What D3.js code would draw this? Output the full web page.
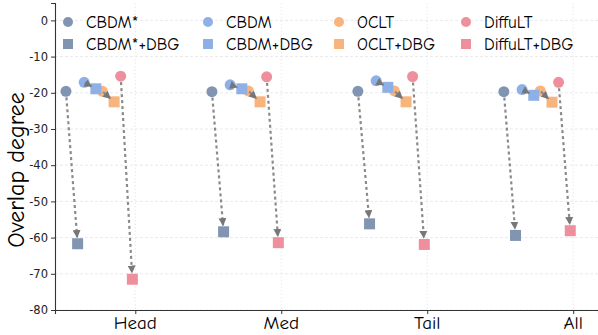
<!DOCTYPE html>
<html>
<head>
<meta charset="utf-8">
<script src="https://cdn.jsdelivr.net/npm/d3@7"></script>
<style>
  body { margin: 0; background: #fff; }
  .label { font-family: "Comic Sans MS", "Comic Neue", "Lato", sans-serif; fill: #000; }
  .tick text { font-family: "DejaVu Sans", sans-serif; font-size: 11.5px; fill: #222; }
</style>
</head>
<body>
<div id="chart"></div>
<script>
// data
let categories = ["Head", "Med", "Tail", "All"];
let methods = ["CBDM*", "CBDM", "OCLT", "DiffuLT"];
let methodColors = ["#8195b3", "#8fb0e7", "#f7b47d", "#ef8f9d"];

// baseline (circle) and +DBG (square) per method, per category
let baseValues = [
    [-19.6, -19.7, -19.6, -19.7],   // CBDM*
    [-17.1, -17.8, -16.7, -19.1],   // CBDM
    [-19.6, -19.5, -19.5, -19.5],   // OCLT
    [-15.4, -15.6, -15.5, -17.1]    // DiffuLT
];
let dbgValues = [
    [-61.7, -58.4, -56.2, -59.4],
    [-18.9, -18.9, -18.5, -20.7],
    [-22.5, -22.5, -22.5, -22.6],
    [-71.5, -61.4, -61.9, -58.1]
];
let yTicks = [0, -10, -20, -30, -40, -50, -60, -70, -80];

// position inside a category group (in category units)
let circleOffsets = [-0.475, -0.35, -0.225, -0.10];
let squareShift = 0.08;

let width = 598, height = 335;
let margin = {top: 3, right: 0, bottom: 25, left: 55};

let svg = d3.select("#chart").append("svg")
    .attr("width", width)
    .attr("height", height);

let x = d3.scaleLinear()
    .domain([-0.55, 3.17])
    .range([margin.left, width - margin.right]);

let y = d3.scaleLinear()
    .domain([-80, 4.8])
    .range([height - margin.bottom, margin.top]);

// grid
svg.append("g").selectAll("line")
    .data(yTicks)
    .enter().append("line")
    .attr("x1", margin.left).attr("x2", width)
    .attr("y1", d => y(d)).attr("y2", d => y(d))
    .attr("stroke", "#e4e4e4")
    .attr("stroke-dasharray", "3,2")
    .attr("stroke-width", 0.8);

svg.append("g").selectAll("line")
    .data(categories)
    .enter().append("line")
    .attr("x1", (d, i) => x(i)).attr("x2", (d, i) => x(i))
    .attr("y1", margin.top).attr("y2", height - margin.bottom)
    .attr("stroke", "#e4e4e4")
    .attr("stroke-dasharray", "1.5,2")
    .attr("stroke-width", 0.8);

// axes
let yAxis = svg.append("g")
    .attr("transform", `translate(${margin.left},0)`)
    .call(d3.axisLeft(y).tickValues(yTicks).tickSize(4).tickPadding(3)
        .tickFormat(d => String(d)));

let xAxis = svg.append("g")
    .attr("transform", `translate(0,${height - margin.bottom})`)
    .call(d3.axisBottom(x).tickValues(d3.range(categories.length)).tickSize(4).tickFormat(""));

[yAxis, xAxis].forEach(a => {
    a.select(".domain").attr("stroke", "#333").attr("stroke-width", 1.1);
    a.selectAll(".tick line").attr("stroke", "#333");
});

svg.append("g").selectAll("text")
    .data(categories)
    .enter().append("text")
    .attr("class", "label")
    .attr("x", (d, i) => x(i))
    .attr("y", height - 6)
    .attr("text-anchor", "middle")
    .attr("font-size", 19)
    .text(d => d);

svg.append("text")
    .attr("class", "label")
    .attr("transform", `translate(24,170) rotate(-90)`)
    .attr("text-anchor", "middle")
    .attr("font-size", 24)
    .text("Overlap degree");

// arrowhead
svg.append("defs").append("marker")
    .attr("id", "arrow")
    .attr("viewBox", "0 0 10 10")
    .attr("refX", 9).attr("refY", 5)
    .attr("markerWidth", 8).attr("markerHeight", 8)
    .attr("markerUnits", "userSpaceOnUse")
    .attr("orient", "auto")
    .append("path")
    .attr("d", "M0,0 L10,5 L0,10 Z")
    .attr("fill", "#777");

// flatten points
let pairs = [];
methods.forEach((m, mi) => {
    categories.forEach((c, ci) => {
        pairs.push({
            mi: mi,
            x0: x(ci + circleOffsets[mi]), y0: y(baseValues[mi][ci]),
            x1: x(ci + circleOffsets[mi] + squareShift), y1: y(dbgValues[mi][ci])
        });
    });
});

// circles (baseline)
svg.append("g").selectAll("circle")
    .data(pairs)
    .enter().append("circle")
    .attr("cx", d => d.x0).attr("cy", d => d.y0)
    .attr("r", 5.5)
    .attr("fill", d => methodColors[d.mi]);

// squares (+DBG)
let sq = 11;
svg.append("g").selectAll("rect")
    .data(pairs)
    .enter().append("rect")
    .attr("x", d => d.x1 - sq / 2).attr("y", d => d.y1 - sq / 2)
    .attr("width", sq).attr("height", sq)
    .attr("fill", d => methodColors[d.mi]);

// arrows, shortened at both ends (short ones shrink less so the head shows)
svg.append("g").selectAll("line")
    .data(pairs)
    .enter().append("line")
    .each(function(d) {
        let dx = d.x1 - d.x0, dy = d.y1 - d.y0;
        let len = Math.sqrt(dx * dx + dy * dy);
        let s0 = len > 30 ? 6 : 1, s1 = len > 30 ? 6.5 : 5;
        d3.select(this)
            .attr("x1", d.x0 + dx * s0 / len).attr("y1", d.y0 + dy * s0 / len)
            .attr("x2", d.x1 - dx * s1 / len).attr("y2", d.y1 - dy * s1 / len);
    })
    .attr("stroke", "#8a8a8a")
    .attr("stroke-width", 2.2)
    .attr("stroke-dasharray", "3,3")
    .attr("marker-end", "url(#arrow)");

// legend
let legendX = [68, 208, 339, 466];
let legendY = [22, 44];
let legend = svg.append("g");
methods.forEach((m, i) => {
    legend.append("circle")
        .attr("cx", legendX[i]).attr("cy", legendY[0])
        .attr("r", 5).attr("fill", methodColors[i]);
    legend.append("rect")
        .attr("x", legendX[i] - 5).attr("y", legendY[1] - 5)
        .attr("width", 10).attr("height", 10)
        .attr("fill", methodColors[i]);
    legend.append("text")
        .attr("class", "label")
        .attr("x", legendX[i] + 18).attr("y", legendY[0] + 6)
        .attr("font-size", 17)
        .text(m);
    legend.append("text")
        .attr("class", "label")
        .attr("x", legendX[i] + 18).attr("y", legendY[1] + 6)
        .attr("font-size", 17)
        .text(m + "+DBG");
});
</script>
</body>
</html>
